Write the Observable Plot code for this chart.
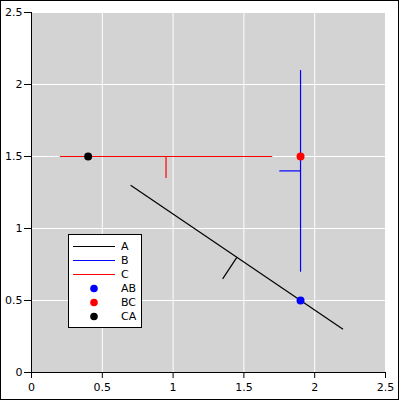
<!DOCTYPE html>
<html><head><meta charset="utf-8">
<script src="https://cdn.jsdelivr.net/npm/d3@7"></script>
<script src="https://cdn.jsdelivr.net/npm/@observablehq/plot@0.6"></script>
<style>
body{margin:0;background:#fff;}
#wrap{position:relative;width:399px;height:400px;font-family:"DejaVu Sans",sans-serif;font-size:11px;}
#wrap svg{position:absolute;left:0;top:0;}
#frame{position:absolute;left:0;top:0;width:399px;height:400px;box-sizing:border-box;border:1px solid #000;pointer-events:none;}
</style></head><body><div id="wrap"><div id="frame"></div></div>
<script>
// Axis ticks
const ticks = [0, 0.5, 1, 1.5, 2, 2.5];

// Lines (segment endpoints) and their mid-point tick marks
const lineNames = ["A", "B", "C"];
const lineColors = ["black", "blue", "red"];
const lineX1 = [0.7, 1.9, 0.2];
const lineY1 = [1.3, 0.7, 1.5];
const lineX2 = [2.2, 1.9, 1.7];
const lineY2 = [0.3, 2.1, 1.5];
const markX1 = [1.45, 1.9, 0.95];
const markY1 = [0.8, 1.4, 1.5];
const markX2 = [1.35, 1.75, 0.95];
const markY2 = [0.65, 1.4, 1.35];

// Intersection points
const pointNames = ["AB", "BC", "CA"];
const pointColors = ["blue", "red", "black"];
const pointX = [1.9, 1.9, 0.4];
const pointY = [0.5, 1.5, 1.5];

const segs = [];
lineNames.forEach((n, i) => {
  segs.push({name: n, color: lineColors[i], x1: lineX1[i], y1: lineY1[i], x2: lineX2[i], y2: lineY2[i]});
  segs.push({name: n, color: lineColors[i], x1: markX1[i], y1: markY1[i], x2: markX2[i], y2: markY2[i]});
});
const pts = pointNames.map((n, i) => ({name: n, color: pointColors[i], x: pointX[i], y: pointY[i]}));

const fmt = d => String(d);
const chart = Plot.plot({
  width: 399, height: 400,
  marginLeft: 31, marginRight: 14, marginTop: 12, marginBottom: 28,
  x: {domain: [0, 2.5]},
  y: {domain: [0, 2.5]},
  color: {type: "identity"},
  style: {background: "transparent", fontFamily: "DejaVu Sans", fontSize: "11px", color: "black", overflow: "visible"},
  marks: [
    Plot.frame({fill: "#d3d3d3", stroke: "none"}),
    Plot.gridX(ticks, {stroke: "white", strokeOpacity: 1}),
    Plot.gridY(ticks, {stroke: "white", strokeOpacity: 1}),
    Plot.link(segs, {x1: "x1", y1: "y1", x2: "x2", y2: "y2", stroke: "color", strokeWidth: 1.2}),
    Plot.dot(pts, {x: "x", y: "y", fill: "color", r: 4}),
    Plot.ruleX([0], {stroke: "black"}),
    Plot.ruleY([0], {stroke: "black"}),
    Plot.axisX(ticks, {tickFormat: fmt, tickSize: 6, tickPadding: 5, stroke: "black", fill: "black"}),
    Plot.axisY(ticks, {tickFormat: fmt, tickSize: 7, tickPadding: 2, stroke: "black", fill: "black"})
  ]
});
const wrap = document.getElementById("wrap");
wrap.insertBefore(chart, wrap.firstChild);

// Legend (SVG overlay)
const entries = [
  ...lineNames.map((n, i) => ({name: n, color: lineColors[i], kind: "line"})),
  ...pointNames.map((n, i) => ({name: n, color: pointColors[i], kind: "dot"}))
];
const lg = d3.create("svg")
  .attr("width", 76).attr("height", 96)
  .style("left", "67px").style("top", "233px")
  .style("font-family", "DejaVu Sans").style("font-size", "11px");
lg.append("rect").attr("x", 1.5).attr("y", 1.5).attr("width", 73).attr("height", 93)
  .attr("fill", "white").attr("stroke", "black");
entries.forEach((e, i) => {
  const cy = 13.5 + 14 * i;
  if (e.kind === "line") {
    lg.append("line").attr("x1", 6).attr("x2", 48).attr("y1", cy).attr("y2", cy)
      .attr("stroke", e.color).attr("stroke-width", 1.2);
  } else {
    lg.append("circle").attr("cx", 27).attr("cy", cy).attr("r", 3.8).attr("fill", e.color);
  }
  lg.append("text").attr("x", 54).attr("y", cy).attr("dy", "0.35em").attr("fill", "black").text(e.name);
});
wrap.appendChild(lg.node());
</script></body></html>
